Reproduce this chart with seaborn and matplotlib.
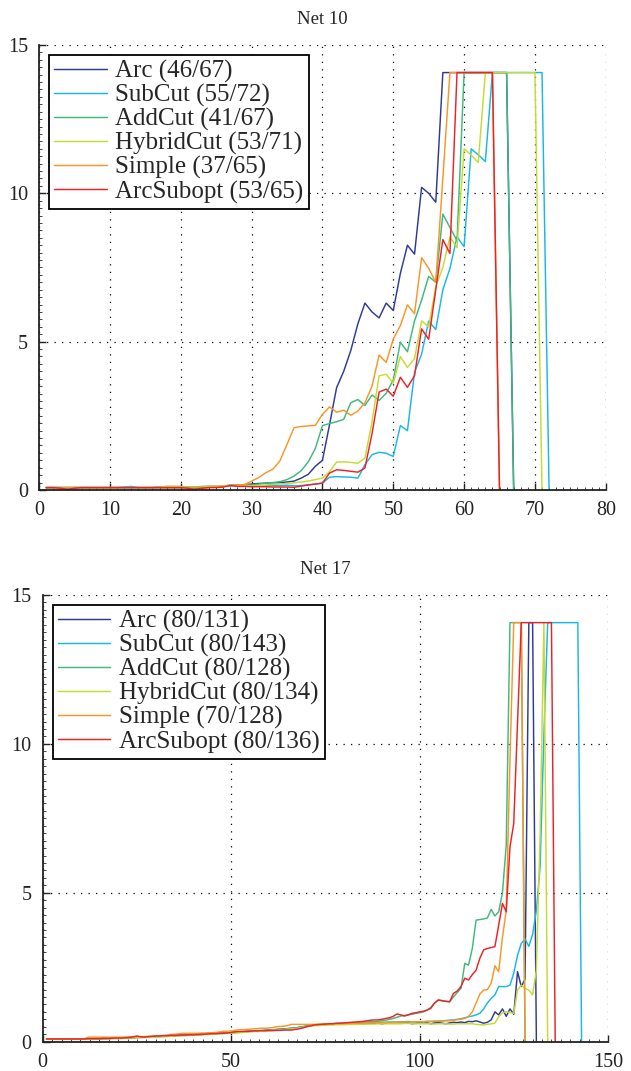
import pandas as pd
import matplotlib.pyplot as plt
import seaborn as sns
from matplotlib.ticker import MultipleLocator

# methods and colours
methods = ["Arc", "SubCut", "AddCut", "HybridCut", "Simple", "ArcSubopt"]
colors = ["#2e3a96", "#19b6ea", "#3dba7c", "#c6da34", "#f7962a", "#ec2227"]

# legend counts
counts_10 = ["46/67", "55/72", "41/67", "53/71", "37/65", "53/65"]
counts_17 = ["80/131", "80/143", "80/128", "80/134", "70/128", "80/136"]

# ---------------- Net 10 ----------------
arc_10 = [0.08, 0.08, 0.08, 0.08, 0.08, 0.08, 0.08, 0.08, 0.08, 0.08,
          0.08, 0.08, 0.08, 0.08, 0.08, 0.08, 0.08, 0.08, 0.08, 0.08,
          0.08, 0.08, 0.08, 0.09, 0.1, 0.12, 0.15, 0.17, 0.18, 0.2,
          0.22, 0.23, 0.24, 0.25, 0.27, 0.3, 0.4, 0.53, 0.8, 1.0,
          2.2, 3.45, 4.0, 4.7, 5.6, 6.3, 6.0, 5.8, 6.3, 6.05,
          7.3, 8.25, 7.95, 10.2, 10.0, 9.7, 14.07, 14.07, 14.07, 14.07,
          14.07, 14.07, 14.07, 14.07, 14.07, 14.07, 0.0]
subcut_10 = [0.08, 0.08, 0.08, 0.08, 0.08, 0.08, 0.08, 0.08, 0.08, 0.08,
             0.08, 0.1, 0.12, 0.08, 0.08, 0.08, 0.1, 0.1, 0.1, 0.1,
             0.08, 0.08, 0.08, 0.09, 0.1, 0.12, 0.17, 0.15, 0.14, 0.12,
             0.13, 0.14, 0.15, 0.15, 0.16, 0.14, 0.15, 0.17, 0.2, 0.23,
             0.43, 0.45, 0.44, 0.43, 0.4, 0.85, 1.19, 1.27, 1.24, 1.13,
             2.17, 2.0, 3.96, 4.58, 5.69, 5.41, 6.75, 7.47, 8.53, 8.2,
             11.5, 11.3, 11.07, 14.07, 14.07, 14.07, 14.07, 14.07, 14.07, 14.07,
             14.07, 0.0]
addcut_10 = [0.08, 0.08, 0.08, 0.08, 0.08, 0.08, 0.08, 0.08, 0.08, 0.08,
             0.08, 0.08, 0.08, 0.08, 0.08, 0.08, 0.1, 0.12, 0.12, 0.12,
             0.1, 0.1, 0.12, 0.13, 0.13, 0.14, 0.15, 0.16, 0.17, 0.17,
             0.2, 0.23, 0.25, 0.28, 0.35, 0.47, 0.65, 0.95, 1.4, 2.17,
             2.24, 2.3, 2.38, 2.94, 3.05, 2.85, 3.2, 3.02, 3.26, 3.71,
             4.98, 4.66, 5.7, 6.4, 7.2, 7.0, 9.3, 8.85, 8.4, 14.07,
             14.07, 14.07, 14.07, 14.07, 14.07, 14.07, 0.0]
hybrid_10 = [0.08, 0.08, 0.08, 0.08, 0.08, 0.08, 0.08, 0.08, 0.08, 0.08,
             0.08, 0.08, 0.08, 0.08, 0.08, 0.08, 0.1, 0.12, 0.12, 0.11,
             0.1, 0.09, 0.1, 0.12, 0.13, 0.14, 0.15, 0.16, 0.16, 0.14,
             0.15, 0.17, 0.19, 0.2, 0.22, 0.24, 0.27, 0.3, 0.35, 0.4,
             0.62, 0.94, 0.95, 0.93, 0.9, 1.07, 2.3, 3.85, 3.9, 3.6,
             4.5, 4.13, 4.43, 5.7, 5.5, 6.86, 7.5, 8.53, 8.17, 11.5,
             11.29, 11.04, 14.07, 14.07, 14.07, 14.07, 14.07, 14.07, 14.07, 14.07,
             0.0]
simple_10 = [0.08, 0.08, 0.08, 0.08, 0.08, 0.08, 0.08, 0.08, 0.08, 0.08,
             0.08, 0.08, 0.08, 0.08, 0.08, 0.08, 0.08, 0.08, 0.08, 0.08,
             0.08, 0.08, 0.08, 0.09, 0.1, 0.12, 0.14, 0.17, 0.18, 0.3,
             0.42, 0.58, 0.7, 0.98, 1.54, 2.1, 2.14, 2.16, 2.18, 2.55,
             2.8, 2.62, 2.69, 2.52, 2.66, 2.94, 3.5, 4.55, 4.3, 5.09,
             5.54, 6.24, 5.94, 7.83, 7.47, 7.0, 10.5, 14.07, 14.07, 14.07,
             14.07, 14.07, 14.07, 14.07, 0.0]
subopt_10 = [0.08, 0.08, 0.06, 0.02, 0.06, 0.08, 0.08, 0.08, 0.08, 0.08,
             0.08, 0.08, 0.08, 0.08, 0.08, 0.08, 0.08, 0.08, 0.08, 0.08,
             0.06, 0.02, 0.06, 0.08, 0.08, 0.1, 0.15, 0.12, 0.12, 0.11,
             0.11, 0.11, 0.1, 0.1, 0.1, 0.09, 0.13, 0.17, 0.2, 0.23,
             0.57, 0.68, 0.66, 0.63, 0.6, 0.74, 1.9, 3.3, 3.4, 3.16,
             3.8, 3.46, 3.85, 5.43, 5.08, 6.75, 8.44, 7.97, 14.07, 14.07,
             14.07, 14.07, 14.07, 14.07, 0.0]

# ---------------- Net 17 ----------------
arc_17 = [0.09, 0.09, 0.09, 0.09, 0.09, 0.09, 0.09, 0.09, 0.09, 0.09,
          0.09, 0.1, 0.1, 0.1, 0.1, 0.1, 0.1, 0.11, 0.11, 0.11,
          0.11, 0.12, 0.12, 0.13, 0.14, 0.15, 0.15, 0.16, 0.16, 0.17,
          0.18, 0.18, 0.19, 0.2, 0.2, 0.21, 0.22, 0.22, 0.23, 0.24,
          0.24, 0.25, 0.26, 0.26, 0.27, 0.28, 0.28, 0.29, 0.3, 0.3,
          0.31, 0.32, 0.33, 0.34, 0.35, 0.35, 0.36, 0.37, 0.38, 0.39,
          0.4, 0.41, 0.42, 0.43, 0.44, 0.45, 0.46, 0.48, 0.5, 0.52,
          0.53, 0.55, 0.56, 0.57, 0.58, 0.58, 0.59, 0.59, 0.6, 0.6,
          0.6, 0.61, 0.61, 0.62, 0.6, 0.61, 0.62, 0.62, 0.63, 0.6,
          0.62, 0.63, 0.63, 0.64, 0.62, 0.63, 0.64, 0.6, 0.62, 0.63,
          0.62, 0.63, 0.6, 0.63, 0.64, 0.62, 0.6, 0.63, 0.65, 0.64,
          0.66, 0.64, 0.68, 0.67, 0.7, 0.66, 0.62, 0.65, 0.73, 1.0,
          0.9, 1.1, 0.85, 1.1, 0.92, 2.35, 1.85, 2.1, 14.07, 14.07,
          0.0]
subcut_17 = [0.09, 0.09, 0.09, 0.09, 0.09, 0.09, 0.09, 0.09, 0.09, 0.09,
             0.1, 0.1, 0.1, 0.11, 0.11, 0.11, 0.11, 0.12, 0.12, 0.12,
             0.12, 0.13, 0.13, 0.13, 0.14, 0.14, 0.15, 0.15, 0.16, 0.16,
             0.17, 0.17, 0.18, 0.19, 0.2, 0.2, 0.21, 0.21, 0.22, 0.23,
             0.23, 0.24, 0.25, 0.26, 0.26, 0.27, 0.28, 0.28, 0.29, 0.3,
             0.31, 0.33, 0.33, 0.34, 0.35, 0.35, 0.36, 0.36, 0.37, 0.38,
             0.39, 0.4, 0.41, 0.42, 0.43, 0.45, 0.46, 0.48, 0.5, 0.52,
             0.54, 0.55, 0.56, 0.57, 0.58, 0.58, 0.59, 0.6, 0.6, 0.6,
             0.61, 0.61, 0.62, 0.62, 0.62, 0.63, 0.63, 0.64, 0.64, 0.65,
             0.65, 0.66, 0.66, 0.66, 0.67, 0.67, 0.68, 0.66, 0.67, 0.67,
             0.67, 0.68, 0.68, 0.69, 0.69, 0.7, 0.71, 0.72, 0.73, 0.75,
             0.77, 0.8, 0.84, 0.86, 0.9, 0.95, 1.1, 1.3, 1.45, 1.57,
             1.85, 1.85, 1.85, 1.9, 2.3, 2.9, 3.3, 3.45, 3.2, 3.6,
             4.4, 5.9, 10.3, 14.07, 14.07, 14.07, 14.07, 14.07, 14.07, 14.07,
             14.07, 14.07, 0.0]
addcut_17 = [0.09, 0.09, 0.09, 0.09, 0.09, 0.09, 0.09, 0.09, 0.09, 0.09,
             0.09, 0.09, 0.1, 0.1, 0.1, 0.1, 0.11, 0.11, 0.11, 0.11,
             0.12, 0.12, 0.13, 0.13, 0.14, 0.15, 0.15, 0.16, 0.17, 0.18,
             0.18, 0.19, 0.19, 0.2, 0.2, 0.21, 0.21, 0.22, 0.22, 0.23,
             0.23, 0.24, 0.25, 0.25, 0.26, 0.27, 0.27, 0.28, 0.28, 0.29,
             0.3, 0.31, 0.32, 0.33, 0.34, 0.35, 0.36, 0.37, 0.37, 0.38,
             0.38, 0.39, 0.39, 0.4, 0.41, 0.42, 0.44, 0.46, 0.49, 0.52,
             0.54, 0.56, 0.57, 0.58, 0.59, 0.6, 0.61, 0.61, 0.62, 0.62,
             0.63, 0.64, 0.64, 0.65, 0.66, 0.66, 0.67, 0.67, 0.68, 0.7,
             0.72, 0.75, 0.78, 0.82, 0.86, 0.88, 0.9, 0.92, 0.95, 0.97,
             1.0, 1.06, 1.15, 1.3, 1.4, 1.38, 1.36, 1.34, 1.5, 1.65,
             1.79, 2.63, 2.57, 3.13, 4.08, 4.1, 4.12, 4.15, 4.44, 4.22,
             4.36, 5.0, 6.6, 14.07, 14.07, 14.07, 14.07, 0.0]
hybrid_17 = [0.08, 0.08, 0.08, 0.08, 0.08, 0.08, 0.08, 0.08, 0.08, 0.08,
             0.08, 0.09, 0.09, 0.09, 0.1, 0.1, 0.1, 0.1, 0.11, 0.11,
             0.11, 0.12, 0.12, 0.13, 0.13, 0.14, 0.14, 0.15, 0.15, 0.16,
             0.16, 0.17, 0.17, 0.18, 0.19, 0.19, 0.2, 0.2, 0.21, 0.22,
             0.22, 0.23, 0.24, 0.24, 0.25, 0.26, 0.26, 0.27, 0.28, 0.28,
             0.29, 0.3, 0.31, 0.32, 0.33, 0.34, 0.34, 0.35, 0.36, 0.37,
             0.38, 0.39, 0.4, 0.41, 0.42, 0.43, 0.44, 0.46, 0.48, 0.5,
             0.52, 0.53, 0.54, 0.55, 0.55, 0.56, 0.56, 0.57, 0.57, 0.57,
             0.58, 0.58, 0.58, 0.58, 0.59, 0.59, 0.59, 0.59, 0.6, 0.6,
             0.6, 0.6, 0.6, 0.6, 0.6, 0.61, 0.61, 0.6, 0.6, 0.6,
             0.6, 0.6, 0.6, 0.59, 0.6, 0.6, 0.6, 0.59, 0.59, 0.6,
             0.6, 0.6, 0.6, 0.6, 0.58, 0.57, 0.56, 0.58, 0.6, 0.62,
             0.84, 0.97, 1.0, 0.98, 0.95, 1.73, 1.9, 1.79, 1.73, 1.57,
             2.4, 7.0, 14.07, 0.0]
simple_17 = [0.09, 0.09, 0.09, 0.09, 0.09, 0.09, 0.09, 0.09, 0.09, 0.09,
             0.09, 0.15, 0.15, 0.15, 0.15, 0.15, 0.15, 0.15, 0.15, 0.15,
             0.15, 0.16, 0.16, 0.17, 0.17, 0.17, 0.17, 0.18, 0.18, 0.19,
             0.2, 0.21, 0.22, 0.24, 0.25, 0.26, 0.28, 0.28, 0.28, 0.28,
             0.28, 0.29, 0.29, 0.3, 0.3, 0.31, 0.33, 0.35, 0.35, 0.36,
             0.38, 0.4, 0.4, 0.41, 0.42, 0.43, 0.44, 0.45, 0.45, 0.46,
             0.47, 0.5, 0.51, 0.52, 0.54, 0.58, 0.58, 0.58, 0.58, 0.58,
             0.58, 0.58, 0.59, 0.59, 0.59, 0.6, 0.6, 0.6, 0.6, 0.61,
             0.61, 0.61, 0.62, 0.62, 0.62, 0.63, 0.63, 0.63, 0.64, 0.64,
             0.64, 0.65, 0.65, 0.65, 0.66, 0.66, 0.66, 0.67, 0.67, 0.67,
             0.67, 0.68, 0.68, 0.68, 0.68, 0.69, 0.7, 0.7, 0.72, 0.74,
             0.75, 0.78, 0.84, 1.0, 1.29, 1.6, 1.73, 1.75, 1.96, 2.55,
             2.35, 3.5, 4.4, 9.5, 14.07, 14.07, 14.07, 0.0]
subopt_17 = [0.09, 0.09, 0.09, 0.09, 0.09, 0.09, 0.09, 0.09, 0.09, 0.09,
             0.09, 0.1, 0.1, 0.1, 0.1, 0.11, 0.11, 0.11, 0.12, 0.12,
             0.12, 0.13, 0.14, 0.16, 0.19, 0.16, 0.15, 0.17, 0.18, 0.19,
             0.19, 0.2, 0.2, 0.21, 0.21, 0.22, 0.22, 0.22, 0.23, 0.23,
             0.24, 0.24, 0.25, 0.26, 0.27, 0.27, 0.28, 0.28, 0.29, 0.31,
             0.33, 0.34, 0.34, 0.35, 0.35, 0.36, 0.36, 0.37, 0.37, 0.37,
             0.37, 0.38, 0.38, 0.39, 0.39, 0.39, 0.41, 0.43, 0.46, 0.5,
             0.53, 0.56, 0.57, 0.58, 0.59, 0.6, 0.6, 0.62, 0.62, 0.63,
             0.64, 0.65, 0.66, 0.67, 0.68, 0.7, 0.72, 0.73, 0.73, 0.75,
             0.78, 0.8, 0.85, 0.93, 0.9, 0.86, 0.9, 0.95, 0.97, 1.0,
             1.02, 1.06, 1.12, 1.3, 1.4, 1.37, 1.35, 1.34, 1.62, 1.7,
             1.85, 2.13, 2.07, 2.25, 2.4, 2.8, 3.08, 3.13, 3.16, 3.19,
             3.91, 4.64, 4.36, 6.54, 7.33, 10.7, 14.07, 14.07, 14.07, 14.07,
             14.07, 14.07, 14.07, 14.07, 14.07, 0.0]

nets = [
    ("Net 10", [arc_10, subcut_10, addcut_10, hybrid_10, simple_10, subopt_10],
     counts_10, 80, [0, 10, 20, 30, 40, 50, 60, 70, 80], 1),
    ("Net 17", [arc_17, subcut_17, addcut_17, hybrid_17, simple_17, subopt_17],
     counts_17, 150, [0, 50, 100, 150], 2.5),
]

sns.set_style("white")
plt.rcParams["font.family"] = ["Liberation Serif", "DejaVu Serif"]

fig = plt.figure(figsize=(6.31, 10.71), dpi=100)
boxes = [[0.062, 0.5425, 0.898, 0.4155], [0.0677, 0.0274, 0.8958, 0.4171]]

for (title, series, counts, xmax, xticks, xminor), box in zip(nets, boxes):
    ax = fig.add_axes(box)
    frames = []
    for name, cnt, vals in zip(methods, counts, series):
        frames.append(pd.DataFrame({
            "instance": range(1, len(vals) + 1),
            "time": vals,
            "method": f"{name} ({cnt})",
        }))
    df = pd.concat(frames, ignore_index=True)
    labels = [f"{n} ({c})" for n, c in zip(methods, counts)]
    sns.lineplot(data=df, x="instance", y="time", hue="method",
                 hue_order=labels, palette=colors, estimator=None,
                 linewidth=1.05, ax=ax)

    ax.set_xlim(0, xmax)
    ax.set_ylim(0, 15)
    ax.set_xticks(xticks)
    ax.set_yticks([0, 5, 10, 15])
    ax.xaxis.set_minor_locator(MultipleLocator(xminor))
    ax.yaxis.set_minor_locator(MultipleLocator(0.25))
    ax.tick_params(which="major", direction="in", length=5, width=1,
                   labelsize=14.5, colors="#222222", pad=8)
    ax.tick_params(which="minor", direction="in", length=2.5, width=0.6,
                   colors="#222222")
    ax.tick_params(axis="x", which="both", top=False, bottom=True)
    ax.tick_params(axis="y", which="both", left=True, right=False)
    ax.set_xlabel("")
    ax.set_ylabel("")
    ax.set_title(title, fontsize=13.5, pad=15)

    ax.grid(True, which="major", color="black", linestyle=(0, (1, 5)),
            linewidth=0.9)
    for side in ["top", "right"]:
        ax.spines[side].set_visible(False)
    for side in ["left", "bottom"]:
        ax.spines[side].set_color("#222222")
        ax.spines[side].set_linewidth(1.3)

    leg = ax.legend(loc="upper left", fontsize=18, frameon=True,
                    fancybox=False, edgecolor="black", framealpha=1,
                    handlelength=2.1, handletextpad=0.35, labelspacing=0.04,
                    borderpad=0.2, borderaxespad=0.4)
    leg.get_frame().set_linewidth(1.3)

fig.savefig("out.png", dpi=100)
